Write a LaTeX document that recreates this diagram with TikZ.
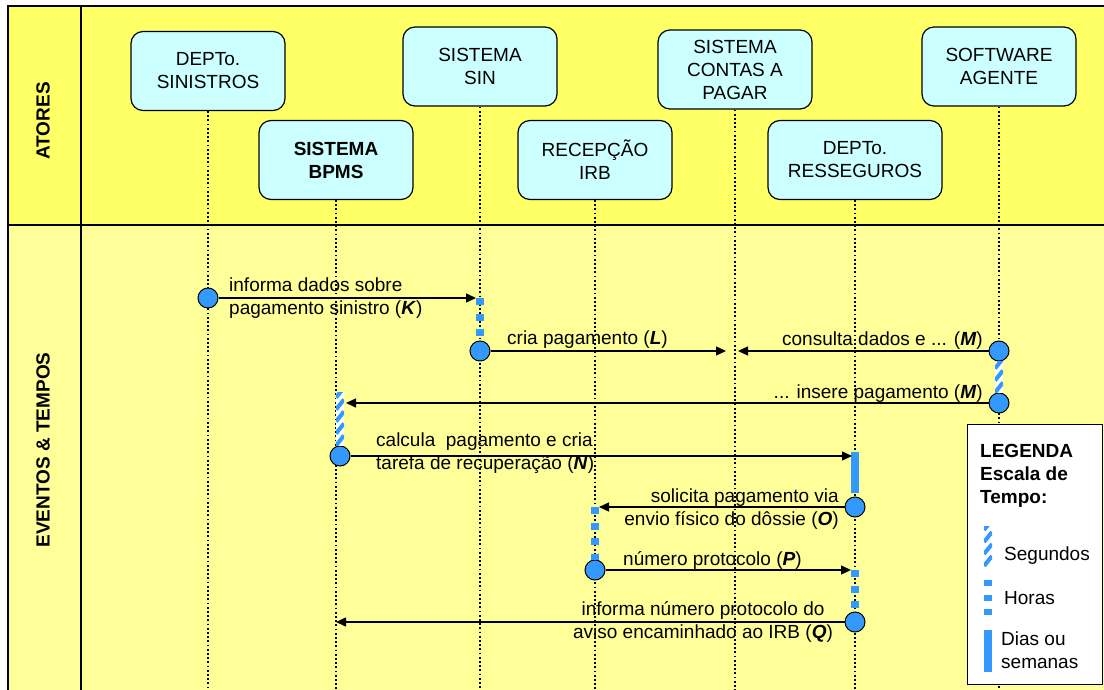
\documentclass[tikz,border=0pt]{standalone}
\usepackage{fontspec}
\setmainfont{Liberation Sans}
\usetikzlibrary{arrows.meta,calc}
\definecolor{bandtop}{HTML}{FFFF66}
\definecolor{bandlow}{HTML}{FFFF99}
\definecolor{atorfill}{HTML}{CCFFFF}
\definecolor{barblue}{HTML}{3399FF}

\begin{document}
\begin{tikzpicture}[x=1pt,y=-1pt,
    every node/.style={font=\fontsize{19}{23}\selectfont, inner sep=0pt},
    negrito/.style={font=\fontsize{19}{23}\selectfont\bfseries},
    ator/.style={draw=black, line width=1.2pt, fill=atorfill, rounded corners=12pt,
        minimum width=154pt, minimum height=79pt, align=center},
    lifeline/.style={line width=1.8pt, dash pattern=on 1.8pt off 2.4pt},
    evento/.style={circle, draw=black, line width=1pt, fill=barblue, minimum size=20pt},
    msg/.style={line width=1.4pt, -{Triangle[length=10pt,width=9pt]}},
    horas/.style={barblue, line width=7.5pt, dash pattern=on 7pt off 8.5pt},
    dias/.style={barblue, line width=8pt},
    segundos/.style={fill=white, path picture={
        \foreach \k in {-1,...,6}
          \draw[barblue, line width=4pt]
            ([yshift=\k*12pt]path picture bounding box.south west) -- ++(8,-10);}}]
  \useasboundingbox (0,0) rectangle (1104,690);
  \clip (0,0) rectangle (1104,690);
  \fill[white] (0,0) rectangle (1104,690);

  % faixas
  \fill[bandtop] (8,6) rectangle (1110,225);
  \fill[bandlow] (8,225) rectangle (1110,700);
  \draw[line width=1.5pt] (1110,6) -- (8,6) -- (8,700);
  \draw[line width=1.3pt] (8,225) -- (1110,225);
  \draw[line width=1.3pt] (81,6) -- (81,700);
  \node[negrito, rotate=90] (atores) at (43,121) {ATORES};
  \node[negrito, rotate=90] (eventos) at (43,450) {EVENTOS \& TEMPOS};

  % atores
  \node[ator] (sinistros) at (208,71) {DEPTo.\\SINISTROS};
  \node[ator, negrito] (bpms) at (336,160) {SISTEMA\\BPMS};
  \node[ator] (sin) at (480,66.5) {SISTEMA\\SIN};
  \node[ator] (irb) at (595,160) {RECEPÇÃO\\IRB};
  \node[ator] (contas) at (735,69.5) {SISTEMA\\CONTAS A\\PAGAR};
  \node[ator, minimum width=174pt] (resseg) at (855,160) {DEPTo.\\RESSEGUROS};
  \node[ator] (agente) at (999,66.5) {SOFTWARE\\AGENTE};

  \coordinate (fundo) at (0,700);
  \foreach \a in {sinistros,bpms,sin,irb,contas,resseg,agente}
    \draw[lifeline] (\a.south) -- (\a.south |- fundo);

  % eventos
  \node[evento] (k) at (208,298) {};
  \node[evento] (l) at (480,351) {};
  \node[evento] (m) at (999,351) {};
  \node[evento] (m2) at (999,403) {};
  \node[evento] (n) at (340,456) {};
  \node[evento] (o) at (855,507) {};
  \node[evento] (p) at (595,570) {};
  \node[evento] (q) at (855,622) {};

  % escalas de tempo
  \draw[horas] (sin.south |- k) -- (l.north);
  \path[segundos] ([xshift=-4pt]m.south) rectangle ([xshift=4pt]m2.north);
  \path[segundos] ($(n.north)+(-4,-53)$) rectangle ($(n.north)+(4,0)$);
  \draw[dias] ($(o.north)+(0,-45)$) -- ($(o.north)+(0,-4)$);
  \draw[horas] (irb.south |- o) -- (p.north);
  \draw[horas] (resseg.south |- p) -- (q.north);

  % mensagens
  \draw[msg] (k) -- ([xshift=-4pt]sin.south |- k);
  \draw[msg] (l) -- ([xshift=-9pt]contas.south |- l);
  \draw[msg] (m) -- ([xshift=3pt]contas.south |- m);
  \draw[msg] (m2) -- ([xshift=10pt]bpms.south |- m2);
  \draw[msg] (n) -- ([xshift=-3pt]resseg.south |- n);
  \draw[msg] (o) -- ([xshift=4pt]irb.south |- o);
  \draw[msg] (p) -- ([xshift=-4pt]resseg.south |- p);
  \draw[msg] (q) -- (bpms.south |- q);

  \node[anchor=west, align=left] (tk) at (229,298.5)
    {informa dados sobre\\pagamento sinistro (\textbf{\textit{K}})};
  \node[anchor=base west] (tl) at (507,344) {cria pagamento (\textbf{\textit{L}})};
  \node[anchor=base east] (tm) at (983,345) {consulta dados e ... (\textbf{\textit{M}})};
  \node[anchor=base east] (tm2) at (983,398) {... insere pagamento (\textbf{\textit{M}})};
  \node[anchor=west, align=left] (tn) at (376,453.5)
    {calcula\ \ pagamento e cria\\tarefa de recuperação (\textbf{\textit{N}})};
  \node[anchor=east, align=right] (to) at (839,509.5)
    {solicita pagamento via\\envio físico do dôssie (\textbf{\textit{O}})};
  \node[anchor=base west] (tp) at (623,565) {número protocolo (\textbf{\textit{P}})};
  \node[align=center] (tq) at (703,621.5)
    {informa número protocolo do\\aviso encaminhado ao IRB (\textbf{\textit{Q}})};

  % legenda
  \node[draw, fill=white, line width=1.3pt, minimum width=135pt, minimum height=260pt,
    anchor=north west] (legenda) at (967,424) {};
  \node[negrito, align=left, anchor=north west] (legtit) at (980,444)
    {LEGENDA\\Escala de\\Tempo:};
  \path[segundos] (984,526) rectangle (992,566);
  \draw[horas, dash pattern=on 6pt off 8.5pt] (988,580) -- (988,619);
  \draw[dias] (988,630) -- (988,672);
  \node[anchor=base west] (lseg) at (1004,560) {Segundos};
  \node[anchor=base west] (lhor) at (1004,604) {Horas};
  \node[anchor=west, align=left] (ldia) at (1001,650) {Dias ou\\semanas};
\end{tikzpicture}
\end{document}
